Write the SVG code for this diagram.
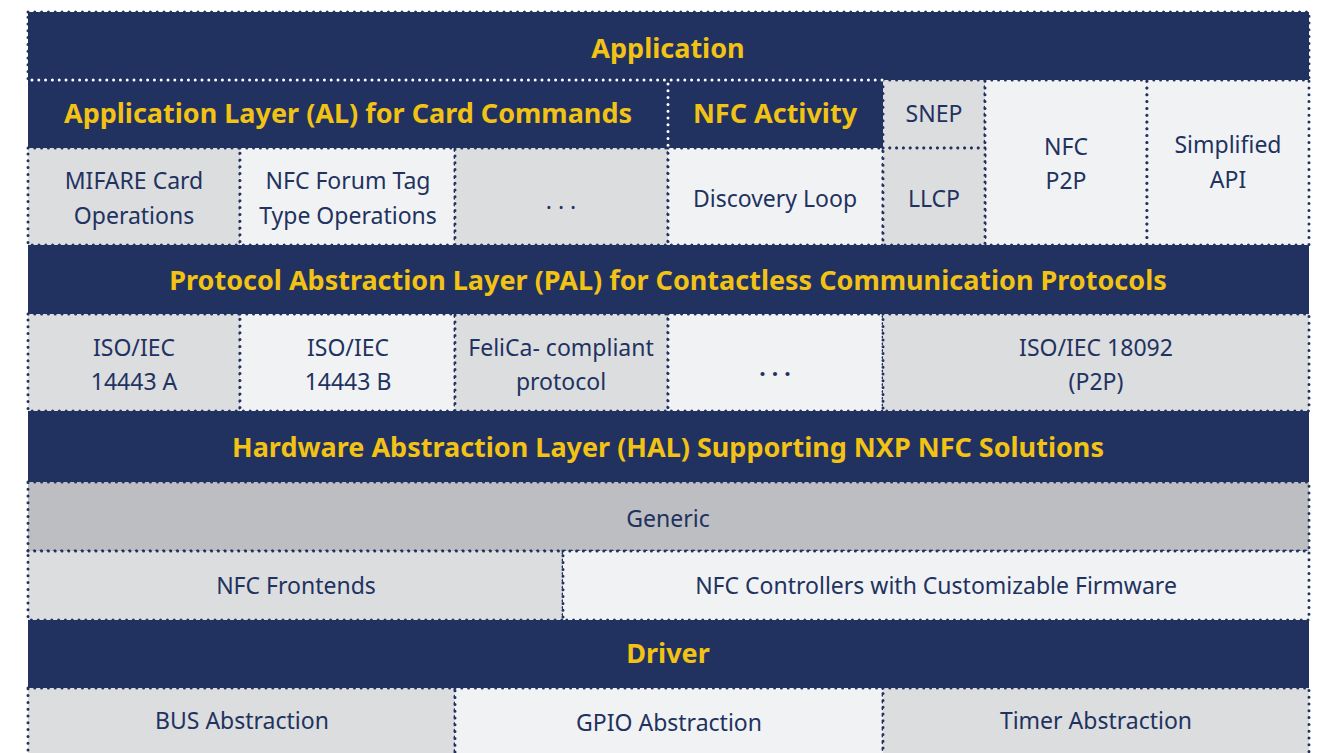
<svg xmlns="http://www.w3.org/2000/svg" width="1325" height="753" viewBox="0 0 1325 753">
<style>
.hd{fill:#213260}
.g{fill:#DCDDDF;stroke:#213260;stroke-width:3;stroke-dasharray:0 6.8;stroke-linecap:round}
.l{fill:#F1F2F4;stroke:#213260;stroke-width:3;stroke-dasharray:0 6.8;stroke-linecap:round}
.gg{fill:#BDBEC2;stroke:#213260;stroke-width:3;stroke-dasharray:0 6.8;stroke-linecap:round}
.wd{stroke:#FFFFFF;stroke-width:3;stroke-dasharray:0 6.8;stroke-linecap:round;fill:none}
.ht{font-family:"Noto Sans",Lato,sans-serif;font-weight:bold;font-size:27px;fill:#F2C314;text-anchor:middle;dominant-baseline:central}
.t{font-family:"Noto Sans",Lato,sans-serif;font-size:23px;fill:#22325F;text-anchor:middle;dominant-baseline:central}
</style>
<rect width="1325" height="753" fill="#FFFFFF"/>
<g id="application"><rect class="hd" x="28" y="12" width="1281" height="68" stroke="#213260" stroke-width="3" stroke-dasharray="0 6.8" stroke-linecap="round"/><text class="ht" x="668" y="47">Application</text></g>
<g id="al"><rect class="hd" x="28" y="80" width="640" height="68"/><text class="ht" x="348" y="112">Application Layer (AL) for Card Commands</text></g>
<g id="nfc-activity"><rect class="hd" x="668" y="80" width="215" height="68"/><text class="ht" x="775" y="112">NFC Activity</text></g>
<g id="snep"><rect class="g" x="883" y="80" width="102" height="68"/><text class="t" x="934" y="113">SNEP</text></g>
<g id="nfc-p2p"><rect class="l" x="985" y="80" width="162" height="165"/><text class="t" x="1066" y="146">NFC</text><text class="t" x="1066" y="180">P2P</text></g>
<g id="simplified-api"><rect class="l" x="1147" y="80" width="162" height="165"/><text class="t" x="1228" y="144">Simplified</text><text class="t" x="1228" y="179">API</text></g>
<g id="mifare"><rect class="g" x="28" y="148" width="212" height="97"/><text class="t" x="134" y="180">MIFARE Card</text><text class="t" x="134" y="215">Operations</text></g>
<g id="nfc-forum"><rect class="l" x="240" y="148" width="215" height="97"/><text class="t" x="348" y="180">NFC Forum Tag</text><text class="t" x="348" y="215">Type Operations</text></g>
<g id="al-more"><rect class="g" x="455" y="148" width="213" height="97"/><text class="t" x="561" y="200">. . .</text></g>
<g id="discovery-loop"><rect class="l" x="668" y="148" width="215" height="97"/><text class="t" x="775" y="198">Discovery Loop</text></g>
<g id="llcp"><rect class="g" x="883" y="148" width="102" height="97"/><text class="t" x="934" y="198">LLCP</text></g>
<g id="pal"><rect class="hd" x="28" y="245" width="1281" height="69"/><text class="ht" x="668" y="279">Protocol Abstraction Layer (PAL) for Contactless Communication Protocols</text></g>
<g id="iso-a"><rect class="g" x="28" y="314" width="212" height="97"/><text class="t" x="134" y="347">ISO/IEC</text><text class="t" x="134" y="381">14443 A</text></g>
<g id="iso-b"><rect class="l" x="240" y="314" width="215" height="97"/><text class="t" x="348" y="347">ISO/IEC</text><text class="t" x="348" y="381">14443 B</text></g>
<g id="felica"><rect class="g" x="455" y="314" width="213" height="97"/><text class="t" x="561" y="347">FeliCa- compliant</text><text class="t" x="561" y="381">protocol</text></g>
<g id="pal-more"><rect class="l" x="668" y="314" width="215" height="97"/><text class="t" x="775" y="367" style="font-weight:bold">. . .</text></g>
<g id="iso-18092"><rect class="g" x="883" y="314" width="426" height="97"/><text class="t" x="1096" y="347">ISO/IEC 18092</text><text class="t" x="1096" y="381">(P2P)</text></g>
<g id="hal"><rect class="hd" x="28" y="411" width="1281" height="71"/><text class="ht" x="668" y="446">Hardware Abstraction Layer (HAL) Supporting NXP NFC Solutions</text></g>
<g id="generic"><rect class="gg" x="28" y="482" width="1281" height="69"/><text class="t" x="668" y="518">Generic</text></g>
<g id="nfc-frontends"><rect class="g" x="28" y="551" width="535" height="69"/><text class="t" x="296" y="585">NFC Frontends</text></g>
<g id="nfc-controllers"><rect class="l" x="563" y="551" width="746" height="69"/><text class="t" x="936" y="585">NFC Controllers with Customizable Firmware</text></g>
<g id="driver"><rect class="hd" x="28" y="620" width="1281" height="68"/><text class="ht" x="668" y="652">Driver</text></g>
<g id="bus"><rect class="g" x="28" y="688" width="427" height="80"/><text class="t" x="242" y="720">BUS Abstraction</text></g>
<g id="gpio"><rect class="l" x="455" y="688" width="428" height="80"/><text class="t" x="669" y="722">GPIO Abstraction</text></g>
<g id="timer"><rect class="g" x="883" y="688" width="426" height="80"/><text class="t" x="1096" y="720">Timer Abstraction</text></g>
<g id="connectors">
<line class="wd" x1="32" y1="80" x2="883" y2="80"/>
<line class="wd" x1="668" y1="84" x2="668" y2="146"/>
</g>
</svg>
